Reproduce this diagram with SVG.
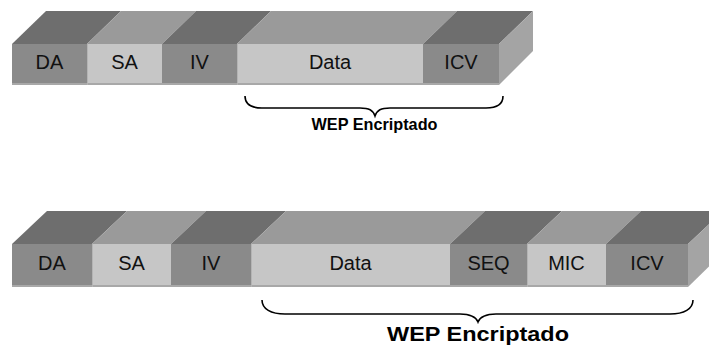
<svg xmlns="http://www.w3.org/2000/svg" width="709" height="346" viewBox="0 0 709 346">
<style>
.fd{fill:#8a8a8a}
.fl{fill:#c6c6c6}
.td{fill:#6e6e6e}
.tl{fill:#9a9a9a}
.sd{fill:#a4a4a4}
.edge{fill:none;stroke:#b4b4b4;stroke-width:1}
.bot{fill:#a8a8a8}
.lbl{font-family:"Liberation Sans",Arial,sans-serif;font-size:20px;fill:#111;text-anchor:middle}
.cap{font-family:"Liberation Sans",Arial,sans-serif;font-weight:bold;fill:#000;text-anchor:middle}
.brace{fill:none;stroke:#000;stroke-width:1.6}
</style>
<rect width="709" height="346" fill="#fff"/>

<!-- Top frame -->
<g id="top-frame">
  <g id="t-DA">
    <polygon class="td" points="12,44 87,44 121,11 46,11"/>
    <rect class="fd" x="12" y="44" width="75" height="41"/>
    <rect class="bot" x="12" y="83" width="75" height="2"/>
    <text class="lbl" x="49.5" y="69">DA</text>
  </g>
  <g id="t-SA">
    <polygon class="tl" points="87,44 162,44 196,11 121,11"/>
    <rect class="fl" x="87" y="44" width="75" height="41"/>
    <rect class="bot" x="87" y="83" width="75" height="2"/>
    <line class="edge" x1="87.5" y1="44" x2="87.5" y2="85"/>
    <text class="lbl" x="124.5" y="69">SA</text>
  </g>
  <g id="t-IV">
    <polygon class="td" points="162,44 237,44 271,11 196,11"/>
    <rect class="fd" x="162" y="44" width="75" height="41"/>
    <rect class="bot" x="162" y="83" width="75" height="2"/>
    <text class="lbl" x="199.5" y="69">IV</text>
  </g>
  <g id="t-Data">
    <polygon class="tl" points="237,44 423,44 457,11 271,11"/>
    <rect class="fl" x="237" y="44" width="186" height="41"/>
    <rect class="bot" x="237" y="83" width="186" height="2"/>
    <line class="edge" x1="237.5" y1="44" x2="237.5" y2="85"/>
    <text class="lbl" x="330" y="69">Data</text>
  </g>
  <g id="t-ICV">
    <polygon class="td" points="423,44 499,44 533,11 457,11"/>
    <rect class="fd" x="423" y="44" width="76" height="41"/>
    <rect class="bot" x="423" y="83" width="76" height="2"/>
    <polygon class="sd" points="499,44 533,11 533,51 499,85"/>
    <text class="lbl" x="461" y="69">ICV</text>
  </g>
</g>

<!-- Bottom frame -->
<g id="bottom-frame">
  <g id="b-DA">
    <polygon class="td" points="12,244 92,244 127,211 47,211"/>
    <rect class="fd" x="12" y="244" width="80" height="43"/>
    <rect class="bot" x="12" y="285" width="80" height="2"/>
    <text class="lbl" x="52" y="269.5">DA</text>
  </g>
  <g id="b-SA">
    <polygon class="tl" points="92,244 171,244 206,211 127,211"/>
    <rect class="fl" x="92" y="244" width="79" height="43"/>
    <rect class="bot" x="92" y="285" width="79" height="2"/>
    <line class="edge" x1="92.5" y1="244" x2="92.5" y2="287"/>
    <text class="lbl" x="131.5" y="269.5">SA</text>
  </g>
  <g id="b-IV">
    <polygon class="td" points="171,244 251,244 286,211 206,211"/>
    <rect class="fd" x="171" y="244" width="80" height="43"/>
    <rect class="bot" x="171" y="285" width="80" height="2"/>
    <text class="lbl" x="211" y="269.5">IV</text>
  </g>
  <g id="b-Data">
    <polygon class="tl" points="251,244 450,244 485,211 286,211"/>
    <rect class="fl" x="251" y="244" width="199" height="43"/>
    <rect class="bot" x="251" y="285" width="199" height="2"/>
    <line class="edge" x1="251.5" y1="244" x2="251.5" y2="287"/>
    <text class="lbl" x="350.5" y="269.5">Data</text>
  </g>
  <g id="b-SEQ">
    <polygon class="td" points="450,244 527,244 562,211 485,211"/>
    <rect class="fd" x="450" y="244" width="77" height="43"/>
    <rect class="bot" x="450" y="285" width="77" height="2"/>
    <text class="lbl" x="488.5" y="269.5">SEQ</text>
  </g>
  <g id="b-MIC">
    <polygon class="tl" points="527,244 606,244 641,211 562,211"/>
    <rect class="fl" x="527" y="244" width="79" height="43"/>
    <rect class="bot" x="527" y="285" width="79" height="2"/>
    <line class="edge" x1="527.5" y1="244" x2="527.5" y2="287"/>
    <text class="lbl" x="566.5" y="269.5">MIC</text>
  </g>
  <g id="b-ICV">
    <polygon class="td" points="606,244 688,244 723,211 641,211"/>
    <rect class="fd" x="606" y="244" width="82" height="43"/>
    <rect class="bot" x="606" y="285" width="82" height="2"/>
    <polygon class="sd" points="688,244 723,211 723,253 688,287"/>
    <text class="lbl" x="647" y="269.5">ICV</text>
  </g>
</g>

<!-- Braces -->
<g id="connectors">
  <path class="brace" d="M245,96 C245,104 251,108 262,108 L360,108 C369,108 373,110 375,116 C377,110 381,108 390,108 L486,108 C497,108 503,104 503,96"/>
  <path class="brace" d="M262,300 C262,309 271,314 285,314 L460,314 C470,314 476,317 478,322 C480,317 486,314 496,314 L670,314 C684,314 693,309 693,300"/>
</g>

<g id="labels">
  <text class="cap" x="374.5" y="130" font-size="17" textLength="126" lengthAdjust="spacingAndGlyphs">WEP Encriptado</text>
  <text class="cap" x="478" y="341" font-size="19.5" textLength="182" lengthAdjust="spacingAndGlyphs">WEP Encriptado</text>
</g>
</svg>
